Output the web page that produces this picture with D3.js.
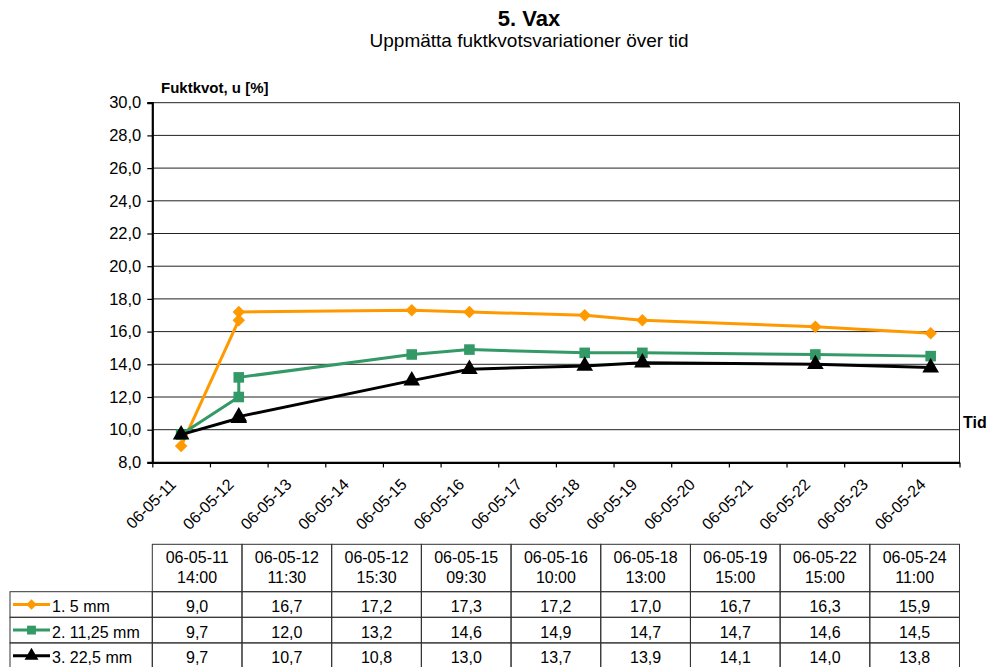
<!DOCTYPE html>
<html>
<head>
<meta charset="utf-8">
<script src="https://cdn.jsdelivr.net/npm/d3@7"></script>
<style>
  html, body { margin: 0; padding: 0; background: #fff; }
  svg { display: block; font-family: "Liberation Sans", Arial, sans-serif; }
</style>
</head>
<body>
<svg id="chart" width="991" height="667"></svg>
<script>
// Measurement times (one column per reading)
const timestamps = [
  "2006-05-11 14:00", "2006-05-12 11:30", "2006-05-12 15:30",
  "2006-05-15 09:30", "2006-05-16 10:00", "2006-05-18 13:00",
  "2006-05-19 15:00", "2006-05-22 15:00", "2006-05-24 11:00"
];

// Moisture ratio per measuring depth, u [%]
const seriesNames = ["1. 5 mm", "2. 11,25 mm", "3. 22,5 mm"];
const depth5 = [9.0, 16.7, 17.2, 17.3, 17.2, 17.0, 16.7, 16.3, 15.9];
const depth1125 = [9.7, 12.0, 13.2, 14.6, 14.9, 14.7, 14.7, 14.6, 14.5];
const depth225 = [9.7, 10.7, 10.8, 13.0, 13.7, 13.9, 14.1, 14.0, 13.8];

// Axis settings
const yTicks = [8, 10, 12, 14, 16, 18, 20, 22, 24, 26, 28, 30];
const dateStart = "2006-05-11";
const dateEnd = "2006-05-25";

const colors = ["#FF9900", "#339966", "#000000"];
// diamond = square turned 45 degrees
const symbols = [d3.symbolSquare, d3.symbolSquare, d3.symbolTriangle];
const symbolRotate = [45, 0, 0];
const symbolSizes = [78, 112, 120];

const parseTime = d3.timeParse("%Y-%m-%d %H:%M");
const parseDay = d3.timeParse("%Y-%m-%d");
const fmtDay = d3.timeFormat("%y-%m-%d");
const fmtClock = d3.timeFormat("%H:%M");
const sv = d3.formatLocale({ decimal: ",", thousands: " ", grouping: [3], currency: ["", " kr"] });
const fmtVal = sv.format(".1f");

const times = timestamps.map(parseTime);
const seriesData = [depth5, depth1125, depth225];

const svg = d3.select("#chart");

const plot = { left: 152.3, right: 959.5, top: 102.7, bottom: 462.4 };

const x = d3.scaleTime()
  .domain([parseDay(dateStart), parseDay(dateEnd)])
  .range([plot.left, plot.right]);
const y = d3.scaleLinear().domain([8, 30]).range([plot.bottom, plot.top]);

// date axis: each reading sits in the middle of its day
const xPos = t => x(d3.timeHour.offset(d3.timeDay.floor(t), 12));

// Titles
svg.append("text").attr("x", 529).attr("y", 26).attr("text-anchor", "middle")
  .attr("font-size", 22).attr("font-weight", "bold").text("5. Vax");
svg.append("text").attr("x", 529).attr("y", 46.5).attr("text-anchor", "middle")
  .attr("font-size", 19).text("Uppmätta fuktkvotsvariationer över tid");

// Gridlines
svg.append("g").selectAll("line").data(yTicks.filter(v => v > 8)).join("line")
  .attr("x1", plot.left).attr("x2", plot.right)
  .attr("y1", d => y(d)).attr("y2", d => y(d))
  .attr("stroke", "#222").attr("stroke-width", 1);

// Plot frame (right edge)
svg.append("line").attr("x1", plot.right).attr("x2", plot.right)
  .attr("y1", plot.top).attr("y2", plot.bottom).attr("stroke", "#222");

// Y axis
const yAxis = d3.axisLeft(y).tickValues(yTicks).tickFormat(fmtVal).tickSize(5).tickPadding(6);
const gy = svg.append("g").attr("transform", `translate(${plot.left},0)`).call(yAxis);
gy.select(".domain").attr("stroke", "#000").attr("stroke-width", 2.2);
gy.selectAll(".tick line").attr("stroke", "#000").attr("stroke-width", 1.2);
gy.selectAll(".tick text").attr("font-size", 16.5).attr("fill", "#000")
  .attr("font-family", "Liberation Sans, Arial, sans-serif");

// X axis: day ticks, labels centred under each day
const dayTicks = d3.timeDay.range(parseDay(dateStart), d3.timeDay.offset(parseDay(dateEnd), 1));
const xAxis = d3.axisBottom(x).tickValues(dayTicks).tickFormat("").tickSize(5).tickSizeOuter(0);
const gx = svg.append("g").attr("transform", `translate(0,${plot.bottom})`).call(xAxis);
gx.select(".domain").attr("stroke", "#000").attr("stroke-width", 2.2);
gx.selectAll(".tick line").attr("stroke", "#000").attr("stroke-width", 1.2);

const labelDays = dayTicks.slice(0, -1);
svg.append("g").selectAll("text").data(labelDays).join("text")
  .attr("transform", d => `translate(${x(d3.timeHour.offset(d, 12)) - 4},${plot.bottom + 23}) rotate(-45)`)
  .attr("text-anchor", "end").attr("font-size", 16).text(d => fmtDay(d));

// Axis titles
svg.append("text").attr("x", 161).attr("y", 93).attr("font-size", 15)
  .attr("font-weight", "bold").text("Fuktkvot, u [%]");
svg.append("text").attr("x", 963).attr("y", 428).attr("font-size", 16)
  .attr("font-weight", "bold").text("Tid");

// Series lines and markers
const line = d3.line().x((d, i) => xPos(times[i])).y(d => y(d));
seriesData.forEach((vals, s) => {
  const g = svg.append("g");
  g.append("path").datum(vals).attr("d", line)
    .attr("fill", "none").attr("stroke", colors[s]).attr("stroke-width", 3)
    .attr("stroke-linejoin", "round");
  g.selectAll("path.m").data(vals).join("path").attr("class", "m")
    .attr("transform", (d, i) => `translate(${xPos(times[i])},${y(d)}) rotate(${symbolRotate[s]})`)
    .attr("d", d3.symbol().type(symbols[s]).size(symbolSizes[s]))
    .attr("fill", colors[s]);
});

// Data table
const colW = (plot.right - plot.left) / timestamps.length;
const tbl = { headTop: 544.3, headBottom: 591.7, rowH: 25.6, legendLeft: 10 };
const tg = svg.append("g");
const stroke = "#333";

// header cells
tg.selectAll("rect.h").data(times).join("rect").attr("class", "h")
  .attr("x", (d, i) => plot.left + i * colW).attr("y", tbl.headTop)
  .attr("width", colW).attr("height", tbl.headBottom - tbl.headTop)
  .attr("fill", "none").attr("stroke", stroke);
tg.selectAll("text.h1").data(times).join("text").attr("class", "h1")
  .attr("x", (d, i) => plot.left + (i + 0.5) * colW).attr("y", 563)
  .attr("text-anchor", "middle").attr("font-size", 16).text(d => fmtDay(d));
tg.selectAll("text.h2").data(times).join("text").attr("class", "h2")
  .attr("x", (d, i) => plot.left + (i + 0.5) * colW).attr("y", 583)
  .attr("text-anchor", "middle").attr("font-size", 16).text(d => fmtClock(d));

seriesData.forEach((vals, s) => {
  const top = tbl.headBottom + s * tbl.rowH;
  // legend cell
  tg.append("rect").attr("x", tbl.legendLeft).attr("y", top)
    .attr("width", plot.left - tbl.legendLeft).attr("height", tbl.rowH)
    .attr("fill", "none").attr("stroke", stroke);
  const cy = top + tbl.rowH / 2;
  tg.append("line").attr("x1", 13).attr("x2", 50).attr("y1", cy).attr("y2", cy)
    .attr("stroke", colors[s]).attr("stroke-width", 3);
  tg.append("path").attr("transform", `translate(31.5,${cy}) rotate(${symbolRotate[s]})`)
    .attr("d", d3.symbol().type(symbols[s]).size(symbolSizes[s] * 0.7))
    .attr("fill", colors[s]);
  tg.append("text").attr("x", 52).attr("y", top + 20.5).attr("font-size", 16)
    .text(seriesNames[s]);
  // value cells
  tg.selectAll(null).data(vals).join("rect")
    .attr("x", (d, i) => plot.left + i * colW).attr("y", top)
    .attr("width", colW).attr("height", tbl.rowH)
    .attr("fill", "none").attr("stroke", stroke);
  tg.selectAll(null).data(vals).join("text")
    .attr("x", (d, i) => plot.left + (i + 0.5) * colW).attr("y", top + 20.5)
    .attr("text-anchor", "middle").attr("font-size", 16).text(d => fmtVal(d));
});
</script>
</body>
</html>
